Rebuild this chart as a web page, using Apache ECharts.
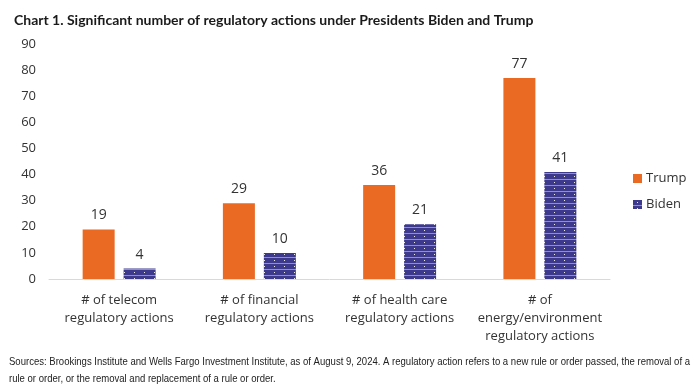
<!DOCTYPE html>
<html><head><meta charset="utf-8">
<script src="https://cdn.jsdelivr.net/npm/echarts@6/dist/echarts.min.js"></script>
<style>html,body{margin:0;padding:0;background:#fff;}#c{width:700px;height:390px;}</style>
</head><body><div id="c"></div>
<script>
const categories = ["# of telecom\nregulatory actions", "# of financial\nregulatory actions", "# of health care\nregulatory actions", "# of\nenergy/environment\nregulatory actions"];
const trump = [19, 29, 36, 77];
const biden = [4, 10, 21, 41];
const yTicks = [0, 10, 20, 30, 40, 50, 60, 70, 80, 90];
const note1 = 'Sources: Brookings Institute and Wells Fargo Investment Institute, as of August 9, 2024. A regulatory action refers to a new rule or order passed, the removal of a';
const note2 = 'rule or order, or the removal and replacement of a rule or order.';

function makePattern(){
  const c = document.createElement('canvas');
  c.width = 10; c.height = 6;
  const g = c.getContext('2d');
  g.fillStyle = '#3d3a8e'; g.fillRect(0,0,10,6);
  g.fillStyle = 'rgba(200,200,240,0.6)'; g.fillRect(0,5,10,1);
  g.fillStyle = 'rgba(255,255,255,0.9)'; g.fillRect(4,2,1,1);
  return c;
}
const noteFont = '11px "Liberation Sans"';
const mc = document.createElement('canvas').getContext('2d');
mc.font = noteFont;
const noteScale = 681 / mc.measureText(note1).width;

const chart = echarts.init(document.getElementById('c'), null, {renderer:'canvas'});
const font = 'Open Sans';
chart.setOption({
  animation:false,
  title:[{text:'Chart 1. Significant number of regulatory actions under Presidents Biden and Trump', left:9, top:8,
    textStyle:{fontFamily:'Lato', fontWeight:'bold', fontSize:14, color:'#1a1a1a'}}],
  graphic:[
    {type:'text', left:9, top:356, scaleX:noteScale, style:{text:note1, font:noteFont, fill:'#222'}},
    {type:'text', left:9, top:373, scaleX:noteScale, style:{text:note2, font:noteFont, fill:'#222'}}
  ],
  legend:{orient:'vertical', left:628, top:167, itemWidth:9, itemHeight:9, itemGap:13, icon:'rect',
    textStyle:{fontFamily:font, fontSize:13, color:'#333', padding:[0,0,0,-1]},
    data:['Trump','Biden']},
  grid:{left:49, right:90, top:44, bottom:111},
  xAxis:{type:'category', data:categories,
    axisLine:{lineStyle:{color:'#d9d9d9', width:1}}, axisTick:{show:false},
    axisLabel:{fontFamily:font, fontSize:13, color:'#333', lineHeight:18, margin:12, interval:0}},
  yAxis:{type:'value', min:yTicks[0], max:yTicks[yTicks.length-1], interval:10,
    axisLine:{show:false}, axisTick:{show:false}, splitLine:{show:false},
    axisLabel:{fontFamily:font, fontSize:13, color:'#333', margin:13}},
  series:[
    {name:'Trump', type:'bar', data:trump, barWidth:32, barGap:'28%', itemStyle:{color:'#ea6a24'},
     label:{show:true, position:'top', distance:7, fontFamily:font, fontSize:14, color:'#333'}},
    {name:'Biden', type:'bar', data:biden, barWidth:32, itemStyle:{color:{image:makePattern(), repeat:'repeat'}},
     label:{show:true, position:'top', distance:7, fontFamily:font, fontSize:14, color:'#333'}}
  ]
});
</script></body></html>
